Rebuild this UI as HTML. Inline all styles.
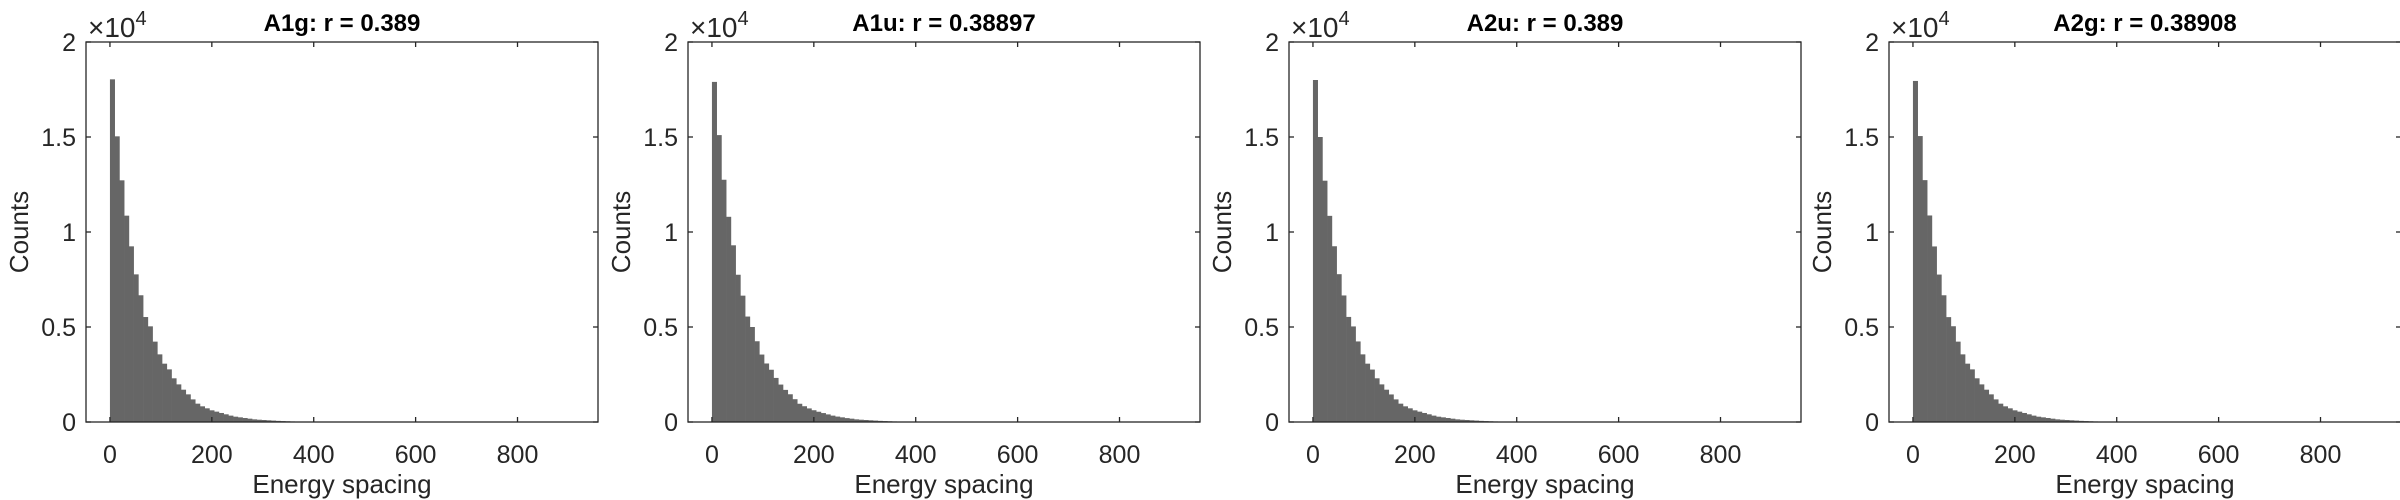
<!DOCTYPE html>
<html><head><meta charset="utf-8"><style>
html,body{margin:0;padding:0;background:#fff;}
svg{display:block;font-family:"Liberation Sans",sans-serif;}
</style></head><body>
<svg id="fig" width="2400" height="500" viewBox="0 0 2400 500"></svg>
<script>
const titles = ["A1g: r = 0.389","A1u: r = 0.38897","A2u: r = 0.389","A2g: r = 0.38908"];
const panelLefts = [86, 688, 1289, 1889];
const binWidth = 9.3;
const countsA1g = [18035,15035,12720,10860,9245,7770,6670,5525,5035,4230,3560,3070,2770,2300,1980,1700,1455,1190,965,825,720,615,545,475,405,335,280,245,210,175,140,120,105,90,75,60,50,40,30,25,20,15,10,8,6,4,3,2,1];
const countsA1u = [17900,15100,12750,10800,9300,7750,6650,5550,5000,4250,3550,3080,2750,2320,1970,1690,1460,1200,960,830,715,620,540,470,400,335,285,245,205,175,140,120,105,90,75,60,50,40,30,25,20,15,10,8,6,4,3,2,1];
const countsA2u = [18000,15000,12700,10850,9250,7780,6660,5530,5030,4240,3560,3070,2760,2300,1980,1700,1450,1190,965,825,720,615,545,475,405,335,280,245,210,175,140,120,105,90,75,60,50,40,30,25,20,15,10,8,6,4,3,2,1];
const countsA2g = [17950,15050,12730,10870,9240,7760,6670,5520,5040,4230,3560,3070,2770,2300,1980,1700,1455,1190,965,825,720,615,545,475,405,335,280,245,210,175,140,120,105,90,75,60,50,40,30,25,20,15,10,8,6,4,3,2,1];
const allCounts = [countsA1g, countsA1u, countsA2u, countsA2g];
const xTicks = [0,200,400,600,800];
const yTicks = [0,5000,10000,15000,20000];
const yTickLabels = ["0","0.5","1","1.5","2"];
const xMin = -47, xMax = 958, yMin = 0, yMax = 20000;

const NS = "http://www.w3.org/2000/svg";
const svg = document.getElementById('fig');
function mk(tag, attrs, parent, text){
  const e = document.createElementNS(NS, tag);
  for (const k in attrs) e.setAttribute(k, attrs[k]);
  if (text !== undefined) e.textContent = text;
  parent.appendChild(e);
  return e;
}
const W = 512, axTop = 42, axBottom = 422;
titles.forEach((t, p) => {
  const L = panelLefts[p], R = L + W;
  const g = mk('g', {}, svg);
  
  
  const xs = v => L + (v - xMin) / (xMax - xMin) * W;
  const ys = v => axBottom - (v - yMin) / (yMax - yMin) * (axBottom - axTop);
  const counts = allCounts[p];
  counts.forEach((c, i) => {
    const x0 = xs(i * binWidth), x1 = xs((i + 1) * binWidth);
    const r = mk('rect', {x: x0, y: ys(c), width: x1 - x0 + 0.3, height: ys(0) - ys(c), fill: '#666666'}, g);
    
    
  });
  const box = mk('rect', {x: L, y: axTop, width: W, height: axBottom - axTop, fill: 'none', stroke: '#262626', 'stroke-width': 1.3}, g);
  
  
  xTicks.forEach(v => {
    const x = xs(v);
    mk('line', {x1: x, x2: x, y1: axBottom, y2: axBottom - 5, stroke: '#262626', 'stroke-width': 1.3}, g);
    mk('line', {x1: x, x2: x, y1: axTop, y2: axTop + 5, stroke: '#262626', 'stroke-width': 1.3}, g);
    const tl = mk('text', {x: x, y: 463, 'text-anchor': 'middle', 'font-size': 25, fill: '#262626'}, g, String(v));
    
    
  });
  yTicks.forEach((v, i) => {
    const y = ys(v);
    mk('line', {x1: L, x2: L + 5, y1: y, y2: y, stroke: '#262626', 'stroke-width': 1.3}, g);
    mk('line', {x1: R, x2: R - 5, y1: y, y2: y, stroke: '#262626', 'stroke-width': 1.3}, g);
    const tl = mk('text', {x: L - 10, y: y + 9, 'text-anchor': 'end', 'font-size': 25, fill: '#262626'}, g, yTickLabels[i]);
    
    
  });
  const ex = mk('text', {x: L + 2, y: 37, 'font-size': 28, fill: '#262626'}, g);
  
  
  mk('tspan', {}, ex, '×10');
  mk('tspan', {dy: -12, 'font-size': 20}, ex, '4');
  const ti = mk('text', {x: L + W/2, y: 31, 'text-anchor': 'middle', 'font-size': 24, 'font-weight': 'bold', fill: '#000'}, g, t);
  
  
  const xl = mk('text', {x: L + W/2, y: 493, 'text-anchor': 'middle', 'font-size': 26, fill: '#262626'}, g, 'Energy spacing');
  
  
  const yl = mk('text', {x: 0, y: 0, 'text-anchor': 'middle', 'font-size': 26, fill: '#262626', transform: `translate(${L - 58},${(axTop+axBottom)/2}) rotate(-90)`}, g, 'Counts');
  
  
});
</script>
</body></html>
